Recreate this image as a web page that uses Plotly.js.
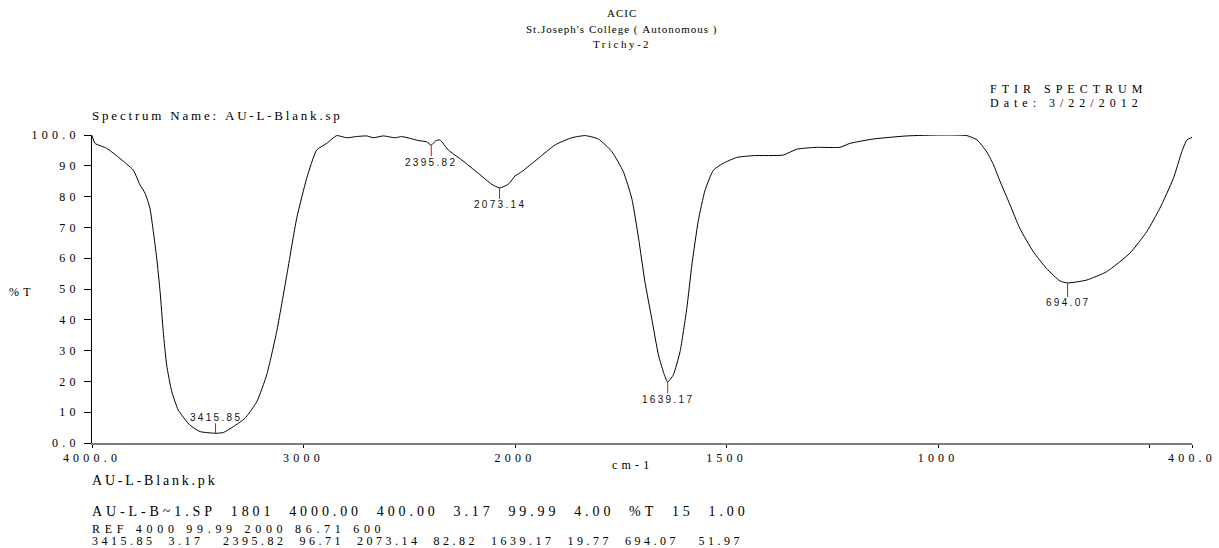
<!DOCTYPE html>
<html><head><meta charset="utf-8">
<script src="https://cdn.plot.ly/plotly-3.0.1.min.js"></script>
<style>
html,body{margin:0;padding:0;background:#fff;}
#chart{width:1219px;height:548px;}
text[style*="lsTick"]{letter-spacing:4.2px;}
text[style*="lsHead"]{letter-spacing:1px;}
text[style*="lsTri"]{letter-spacing:2.5px;}
text[style*="lsRight"]{letter-spacing:5px;}
text[style*="lsName"]{letter-spacing:2.8px;}
text[style*="lsFootA"]{letter-spacing:3.9px;}
text[style*="lsFootB"]{letter-spacing:2.8px;}
text[style*="lsFootC"]{letter-spacing:4.7px;}
text[style*="lsFootD"]{letter-spacing:3.5px;}
text[style*="lsPeak"]{letter-spacing:2.3px;}
</style></head><body><div id="chart"></div>
<script>
// ---- data ----
const wavenumber = [4000,3986,3931,3868,3805,3773,3749,3726,3710,3694,3678,3663,3647,3623,3592,3537,3489,3415.85,3379,3332,3277,3221,3174,3127,3079,3032,2985,2938,2890,2843,2796,2749,2701,2670,2623,2567,2536,2496,2457,2418,2395.82,2375,2355,2315,2252,2174,2110,2073.14,2032,2000,
  1984,1945,1905,1866,1834,1803,1771,1744,1724,1708,1693,1677,1661,1647,1639.17,1626,1610,1594,1582,1567,1551,1531,1508,1476,1437,1366,1334,1287,1232,1208,1153,1074,996,932,908,885,877,869,855,830,807,775,744,712,694.07,649,602,547,507,476,444,424,412,400];
const transmittance = [99.8,97.3,95.7,92.4,88.6,83.8,81.1,76.2,68.6,60,49.1,36.1,25.3,16.7,10.7,5.8,3.7,3.17,3.4,5.3,8.0,13.4,22.1,36.1,54.5,73,85.9,95.1,97.3,99.8,99.1,99.5,99.7,99.1,99.7,99.1,99.5,98.9,98.2,97.8,96.71,98.1,98.4,95.1,91.9,87.6,84.0,82.82,84,86.71,
  88.1,92.4,96.8,99.1,99.8,98.7,94.6,88.1,79.4,66.5,52.4,40.5,28.6,22.1,19.77,22.1,29.6,43.7,57.8,72,82,88.6,90.8,92.7,93.3,93.5,95.4,96,96,97.3,98.7,99.7,100,99.8,98.4,94.5,92.5,90.3,85.4,77.3,69.7,62.1,56.7,52.6,51.97,52.9,55.6,61.6,68.6,76.2,85.9,94.6,98.4,99.2];
const peakWavenumbers = [3415.85, 2395.82, 2073.14, 1639.17, 694.07];
const peakTransmittance = [3.17, 96.71, 82.82, 19.77, 51.97];
const peakLabels = ["3415.85", "2395.82", "2073.14", "1639.17", "694.07"];
const scaleBreak = 2000;
const xTickValsHigh = [4000, 3000];
const xTickTextHigh = ["4000.0", "3000"];
const xTickValsLow = [2000, 1500, 1000, 500, 400];
const xTickTextLow = ["2000", "1500", "1000", "", "400.0"];
const yTickVals = [0, 10, 20, 30, 40, 50, 60, 70, 80, 90, 100];
const yTickText = ["0.0", "10", "20", "30", "40", "50", "60", "70", "80", "90", "100.0"];
const headerLines = ["ACIC", "St.Joseph's College ( Autonomous )", "Trichy-2"];
const rightHeader = ["FTIR SPECTRUM", "Date: 3/22/2012"];
const spectrumName = "Spectrum Name: AU-L-Blank.sp";
const yAxisLabel = "%T";
const xAxisLabel = "cm-1";
const footerLines = [
  "AU-L-Blank.pk",
  "AU-L-B~1.SP  1801  4000.00  400.00  3.17  99.99  4.00  %T  15  1.00",
  "REF 4000 99.99 2000 86.71 600",
  "3415.85  3.17   2395.82  96.71  2073.14  82.82  1639.17  19.77  694.07   51.97"
];

// ---- layout geometry (pixels) ----
const W = 1219, H = 548, L = 92, R = 27, T = 135, B = 105;
const PW = W - L - R, PH = H - T - B;
const splitFrac = 423 / PW;
const px = x => (x - L) / PW;
const py = y => (H - B - y) / PH;
const serif = tag => 'Liberation Serif, ' + tag + ', serif';
const nb = s => s.replace(/ /g, '\u00a0');

// split the spectrum at the scale change; each half keeps one neighbour beyond the break
// so the curve stays continuous (the extra point is clipped by its subplot)
const hiX = [], hiY = [], loX = [], loY = [];
const firstLow = wavenumber.findIndex(w => w < scaleBreak);
const lastHigh = firstLow - 2;
wavenumber.forEach((w, i) => {
  if (i <= firstLow) { hiX.push(w); hiY.push(transmittance[i]); }
  if (i >= lastHigh) { loX.push(w); loY.push(transmittance[i]); }
});

const lineStyle = {color: '#000', width: 1, shape: 'spline', smoothing: 0.5};
const traces = [
  {x: hiX, y: hiY, xaxis: 'x', yaxis: 'y', mode: 'lines', line: lineStyle},
  {x: loX, y: loY, xaxis: 'x2', yaxis: 'y', mode: 'lines', line: lineStyle}
];

const annotations = [];
function txt(text, x, y, size, xanchor, tag) {
  annotations.push({text: nb(text), xref: 'paper', yref: 'paper', x: px(x), y: py(y),
    xanchor: xanchor, yanchor: 'middle', showarrow: false, borderpad: 0,
    font: {family: serif(tag), size: size, color: '#000'}});
}
txt(headerLines[0], 622, 13, 11, 'center', 'lsHead');
txt(headerLines[1], 622, 29, 11, 'center', 'lsHead');
txt(headerLines[2], 622, 44, 11, 'center', 'lsTri');
txt(rightHeader[0], 989, 89, 12, 'left', 'lsRight');
txt(rightHeader[1], 989, 103, 12, 'left', 'lsRight');
txt(spectrumName, 91, 115, 13, 'left', 'lsName');
txt(yAxisLabel, 22, 292, 12, 'center', 'lsTick');
txt(xAxisLabel, 632, 465, 12, 'center', 'lsTick');
const footY = [480, 511, 529, 541];
const footSize = [14, 14, 12, 12];
const footTag = ['lsFootB', 'lsFootA', 'lsFootC', 'lsFootD'];
footerLines.forEach((t, i) => txt(t, 91, footY[i], footSize[i], 'left', footTag[i]));

peakWavenumbers.forEach((w, i) => {
  const below = peakTransmittance[i] > 10;
  annotations.push({text: peakLabels[i], x: w, y: peakTransmittance[i],
    xref: w >= scaleBreak ? 'x' : 'x2', yref: 'y',
    showarrow: true, arrowhead: 0, arrowwidth: 1, arrowcolor: '#ff0000',
    ax: 0, ay: below ? (peakTransmittance[i] > 50 && peakTransmittance[i] < 60 ? 20 : 17) : -16,
    standoff: 0, borderpad: 0,
    font: {family: 'Liberation Sans, lsPeak, sans-serif', size: 10, color: '#111'}});
});

const xCommon = {ticks: 'outside', ticklen: 3, tickcolor: '#000', tickwidth: 1,
  showline: true, linecolor: '#7a7a7a', linewidth: 2, showgrid: false, zeroline: false,
  tickmode: 'array', tickfont: {family: serif('lsTick'), size: 12, color: '#000'}, anchor: 'y', fixedrange: true};

const layout = {
  width: W, height: H, margin: {l: L, r: R, t: T, b: B, pad: 0},
  paper_bgcolor: '#fff', plot_bgcolor: '#fff', showlegend: false,
  xaxis: Object.assign({}, xCommon, {domain: [0, splitFrac], range: [4000, scaleBreak],
    tickvals: xTickValsHigh, ticktext: xTickTextHigh}),
  xaxis2: Object.assign({}, xCommon, {domain: [splitFrac, 1], range: [scaleBreak, 400],
    tickvals: xTickValsLow, ticktext: xTickTextLow}),
  yaxis: {range: [0, 100], tickmode: 'array', tickvals: yTickVals, ticktext: yTickText,
    ticks: 'outside', ticklen: 7, tickcolor: '#000', showline: true, linecolor: '#000', linewidth: 1,
    showgrid: false, zeroline: false, anchor: 'x', ticklabelstandoff: 2,
    tickfont: {family: serif('lsTick'), size: 12, color: '#000'}, fixedrange: true},
  annotations: annotations
};

Plotly.newPlot('chart', traces, layout, {displayModeBar: false, staticPlot: true});
</script></body></html>
